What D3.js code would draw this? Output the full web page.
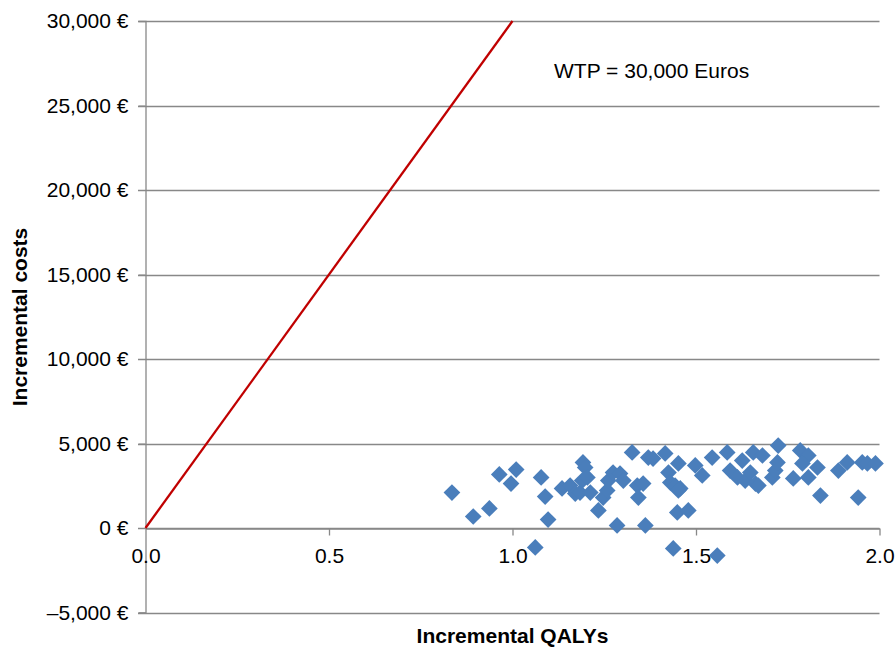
<!DOCTYPE html>
<html><head><meta charset="utf-8">
<script src="https://cdn.jsdelivr.net/npm/d3@7"></script>
<style>body{margin:0;background:#fff} text{font-family:"Liberation Sans",Arial,sans-serif}</style>
</head><body><svg id="c" width="895" height="650"></svg>
<script>
// Data
const qalys = [0.835,0.893,0.937,0.964,0.996,1.010,1.078,1.089,1.097,1.062,
  1.135,1.157,1.171,1.184,1.192,1.198,1.190,1.204,1.212,1.234,
  1.247,1.258,1.261,1.274,1.293,1.302,1.285,1.326,1.340,1.343,
  1.356,1.362,1.370,1.383,1.416,1.425,1.430,1.452,1.443,1.457,
  1.452,1.449,1.479,1.438,1.498,1.517,1.544,1.558,1.585,1.593,
  1.626,1.613,1.634,1.648,1.656,1.681,1.662,1.670,1.708,1.716,
  1.724,1.722,1.784,1.806,1.790,1.831,1.765,1.806,1.839,1.888,
  1.912,1.953,1.967,1.989,1.942];
const costs = [2100,680,1160,3170,2630,3460,2990,1860,500,-1150,
  2340,2510,2040,2100,3880,3580,2810,2990,2100,1040,
  1800,2220,2810,3280,3220,2810,150,4470,2510,1800,
  2630,150,4170,4110,4410,3280,2690,3820,2510,2340,
  2220,920,1040,-1210,3700,3110,4170,-1630,4470,3400,
  3990,2990,2810,3280,4470,4290,2630,2510,2990,3400,
  4880,3880,4590,4290,3820,3580,2930,2990,1920,3400,
  3880,3880,3820,3820,1800];
const yTicks = [-5000,0,5000,10000,15000,20000,25000,30000];
const xTicks = [0,0.5,1.0,1.5,2.0];
const wtpLine = [[0,0],[1.0,30000]];
const wtpLabel = "WTP = 30,000 Euros";
const xTitle = "Incremental QALYs";
const yTitle = "Incremental costs";

const svg = d3.select("#c");
const x = d3.scaleLinear().domain([0,2]).range([145.5,879.5]);
const y = d3.scaleLinear().domain([-5000,30000]).range([612.5,21]);
const gridColor = "#888";
const fs = 21;

// horizontal gridlines
svg.append("g").selectAll("line").data(yTicks).join("line")
  .attr("x1",138).attr("x2",x(2)).attr("y1",d=>Math.round(y(d))+0.5).attr("y2",d=>Math.round(y(d))+0.5)
  .attr("stroke",gridColor).attr("stroke-width",1.3);

// y axis
const fmtY = d => (d<0?"\u2013":"") + d3.format(",")(Math.abs(d)) + " \u20ac";
const ya = svg.append("g").attr("transform","translate("+x(0)+",0)")
  .call(d3.axisLeft(y).tickValues(yTicks).tickSize(7).tickPadding(10).tickFormat(fmtY));
ya.select(".domain").attr("stroke",gridColor).attr("stroke-width",1.3);
ya.selectAll(".tick line").attr("stroke",gridColor);
ya.selectAll("text").attr("font-size",fs).attr("fill","#000").style("font-family","'Liberation Sans',Arial,sans-serif");

// x axis at y=0
const xa = svg.append("g").attr("transform","translate(0,"+(Math.round(y(0))+0.5)+")")
  .call(d3.axisBottom(x).tickValues(xTicks).tickSize(7).tickPadding(13).tickSizeOuter(0).tickFormat(d3.format(".1f")));
xa.select(".domain").attr("stroke",gridColor).attr("stroke-width",1.3);
xa.selectAll(".tick line").attr("stroke",gridColor).attr("stroke-width",1.3);
xa.selectAll(".tick").filter(d=>d===0).select("line").remove();
xa.selectAll("text").attr("font-size",fs).attr("fill","#000").style("font-family","'Liberation Sans',Arial,sans-serif");

// WTP line
svg.append("path").datum(wtpLine)
  .attr("d", d3.line().x(d=>x(d[0])).y(d=>y(d[1])))
  .attr("stroke","#c00000").attr("stroke-width",2.3).attr("fill","none");

// points
const sym = d3.symbol().type(d3.symbolSquare).size(140);
svg.append("g").selectAll("path").data(qalys.map((q,i)=>[q,costs[i]])).join("path")
  .attr("d", sym)
  .attr("transform", d=>"translate("+x(d[0])+","+y(d[1])+") rotate(45)")
  .attr("fill","#4a7ebb");

// label
svg.append("text").attr("x",554).attr("y",78).attr("font-size",fs).text(wtpLabel);

// titles
svg.append("text").attr("x",(x(0)+x(2))/2).attr("y",643).attr("text-anchor","middle")
  .attr("font-size",fs).attr("font-weight","bold").text(xTitle);
svg.append("text").attr("transform","translate(27,317) rotate(-90)").attr("text-anchor","middle")
  .attr("font-size",fs).attr("font-weight","bold").text(yTitle);
</script></body></html>
